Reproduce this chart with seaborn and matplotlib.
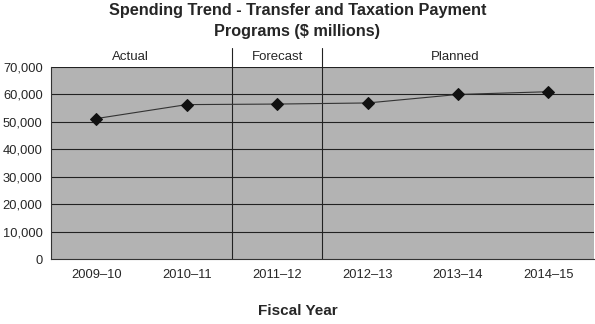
import matplotlib
matplotlib.use("Agg")
import matplotlib.pyplot as plt
import seaborn as sns
import pandas as pd
from matplotlib.ticker import FuncFormatter, FixedLocator

years = ["2009–10", "2010–11", "2011–12", "2012–13", "2013–14", "2014–15"]
spending = [51200, 56300, 56500, 56900, 60000, 61000]
sections = ["Actual", "Forecast", "Planned"]
section_centers = [0.38, 2, 3.97]
section_bounds = [1.5, 2.5]

sns.set_style("white")
plt.rcParams['font.family'] = ['Liberation Sans', 'DejaVu Sans']

df = pd.DataFrame({"year": years, "x": range(len(years)), "spending": spending})

fig = plt.figure(figsize=(5.95, 3.24), dpi=100)
ax = fig.add_axes([0.0857, 0.2006, 0.912, 0.5925])
ax.set_facecolor("#B3B3B3")

for yv in range(10000, 70001, 10000):
    ax.axhline(yv, color="#222222", lw=0.8, zorder=1)

sns.lineplot(data=df, x="x", y="spending", ax=ax, color="#333333", lw=0.8,
             marker="D", markersize=6, markerfacecolor="#111111",
             markeredgecolor="#111111", zorder=3)

ax.set_xlim(-0.5, 5.5)
ax.set_ylim(0, 70000)
ax.set_xticks(range(len(years)))
ax.set_xticklabels(years, fontsize=9.3)
ax.xaxis.set_minor_locator(FixedLocator([i + 0.5 for i in range(-1, 6)]))
ax.tick_params(axis="x", which="major", length=0, pad=7)
ax.tick_params(axis="x", which="minor", length=4, width=0.8, color="#333333", direction="out")
ax.set_yticks(range(0, 70001, 10000))
ax.yaxis.set_major_formatter(FuncFormatter(lambda v, p: f"{int(v):,}"))
ax.tick_params(axis="y", length=4, width=0.8, color="#333333", direction="out", labelsize=9.3, pad=2)
ax.set_xlabel("")
ax.set_ylabel("")

for s in ["top", "right"]:
    ax.spines[s].set_visible(False)
for s in ["left", "bottom"]:
    ax.spines[s].set_color("#333333")
    ax.spines[s].set_linewidth(0.8)

for b in section_bounds:
    ax.axvline(b, ymin=0, ymax=1.1, color="#222222", lw=0.8, clip_on=False, zorder=2)
for name, c in zip(sections, section_centers):
    ax.text(c, 1.05, name, transform=ax.get_xaxis_transform(), ha="center", va="center", fontsize=9.5)

fig.text(0.5, 0.935, "Spending Trend - Transfer and Taxation Payment\nPrograms ($ millions)",
         ha="center", va="center", fontsize=11.7, fontweight="bold", linespacing=1.5)
fig.text(0.5, 0.04, "Fiscal Year", ha="center", va="center", fontsize=11, fontweight="bold")

fig.savefig("out.png", dpi=100)
